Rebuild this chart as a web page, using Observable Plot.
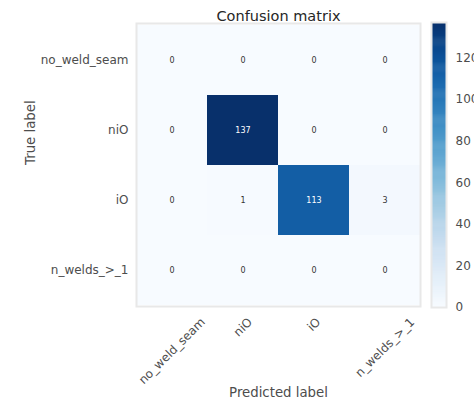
<!DOCTYPE html>
<html>
<head>
<meta charset="utf-8">
<script src="https://cdn.jsdelivr.net/npm/d3@7"></script>
<script src="https://cdn.jsdelivr.net/npm/@observablehq/plot@0.6"></script>
<style>
  html, body { margin: 0; padding: 0; background: white; overflow: hidden; }
  #wrap { position: relative; width: 474px; height: 402px; }
  #wrap svg { position: absolute; top: 0; overflow: visible; }
</style>
</head>
<body>
<div id="wrap"></div>
<script>
const classes = ["no_weld_seam", "niO", "iO", "n_welds_>_1"];
const row_no_weld_seam = [0, 0, 0, 0];
const row_niO = [0, 137, 0, 0];
const row_iO = [0, 1, 113, 3];
const row_n_welds = [0, 0, 0, 0];
const colorTicks = [0, 20, 40, 60, 80, 100, 120];
const title = "Confusion matrix";
const xLabel = "Predicted label";
const yLabel = "True label";

const rows = [row_no_weld_seam, row_niO, row_iO, row_n_welds];
const vmax = d3.max(rows.flat());
const cells = rows.flatMap((r, i) => r.map((v, j) => ({t: classes[i], p: classes[j], v})));

const font = "DejaVu Sans";
const tickSize = 12;
const ctx = document.createElement("canvas").getContext("2d");
ctx.font = `${tickSize}px "${font}"`;

const color = {type: "linear", scheme: "blues", domain: [0, vmax]};

const xTickMarks = classes.map(c => {
  const w = ctx.measureText(c).width;
  return Plot.text([c], {
    x: d => d, text: d => d, frameAnchor: "bottom",
    rotate: -45, textAnchor: "middle", lineAnchor: "middle",
    dy: 10 + (w + 10) * 0.3536, fontSize: tickSize, fill: "#4d4d4d"
  });
});

const main = Plot.plot({
  width: 474, height: 402,
  marginLeft: 136, marginRight: 54, marginTop: 23, marginBottom: 96,
  style: {fontFamily: font, background: "white"},
  x: {domain: classes, padding: 0, axis: null},
  y: {domain: classes, padding: 0, axis: null},
  color,
  marks: [
    Plot.cell(cells, {x: "p", y: "t", fill: "v", inset: 0}),
    Plot.frame({stroke: "#e8e8e8", strokeWidth: 2}),
    Plot.text(cells, {x: "p", y: "t", text: d => String(d.v), fontSize: 8,
      fill: d => d.v > vmax / 2 ? "white" : "#333333"}),
    Plot.axisY({tickSize: 0, tickPadding: 8, fontSize: tickSize, color: "#4d4d4d", label: null}),
    ...xTickMarks,
    Plot.text([title], {text: d => d, frameAnchor: "top", dy: -13, fontSize: 14.5, fill: "#262626"}),
    Plot.text([xLabel], {text: d => d, frameAnchor: "bottom", dy: 90, fontSize: 13.3, fill: "#4d4d4d"}),
    Plot.text([yLabel], {text: d => d, frameAnchor: "left", dx: -106, rotate: -90, fontSize: 13.3, fill: "#4d4d4d"})
  ]
});
main.style.left = "0px";

const step = vmax / 274;
const bands = d3.range(0, vmax, step);
const bar = Plot.plot({
  width: 54, height: 402,
  marginLeft: 11, marginRight: 28, marginTop: 22, marginBottom: 95,
  style: {fontFamily: font, background: "transparent"},
  x: {domain: [0, 1], axis: null},
  y: {domain: [0, vmax], ticks: colorTicks, axis: null},
  color,
  marks: [
    Plot.rect(bands, {x1: 0, x2: 1, y1: d => d, y2: d => Math.min(vmax, d + step * 1.5), fill: d => d + step / 2}),
    Plot.frame({stroke: "#e8e8e8", strokeWidth: 2}),
    Plot.axisY(colorTicks, {anchor: "right", tickSize: 0, tickPadding: 9, fontSize: tickSize, color: "#4d4d4d", label: null})
  ]
});
bar.style.left = "420px";

const wrap = document.getElementById("wrap");
wrap.appendChild(main);
wrap.appendChild(bar);
</script>
</body>
</html>
